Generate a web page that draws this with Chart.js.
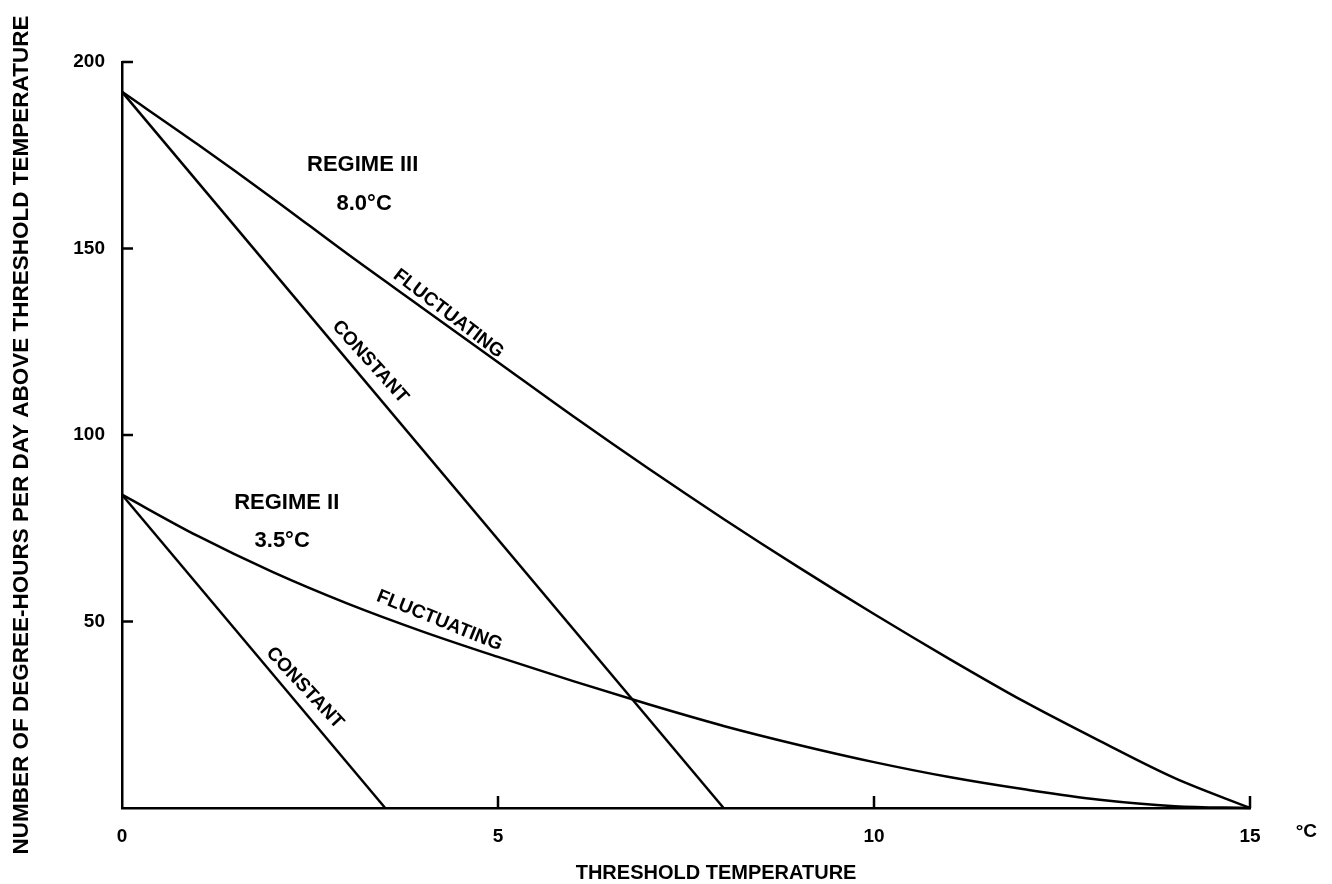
<!DOCTYPE html>
<html>
<head>
<meta charset="utf-8">
<title>Degree-hours above threshold temperature</title>
<script src="https://cdn.jsdelivr.net/npm/chart.js@4/dist/chart.umd.min.js"></script>
<style>
  html, body { margin: 0; padding: 0; background: #fff; }
  #wrap { width: 1332px; height: 884px; }
</style>
</head>
<body>
<div id="wrap"><canvas id="c" width="1332" height="884"></canvas></div>
<script>
// Threshold temperatures (°C) at which the curves are sampled
const thresholds = [0, 1, 2, 3, 4, 5, 6, 7, 8, 9, 10, 11, 12, 13, 14, 15];

// Regime III (mean 8.0 °C), degree-hours per day above threshold
const regime3Fluctuating = [192, 178, 163.5, 148.5, 134, 119.5, 105, 91, 77.5, 64.5, 52, 40, 28.5, 18, 8, 0];
const regime3ConstantX = [0, 8.0];
const regime3Constant = [192, 0];

// Regime II (mean 3.5 °C)
const regime2Fluctuating = [84, 73, 63.3, 54.8, 47.3, 40.5, 34, 27.8, 22, 16.9, 12.3, 8.3, 5, 2.2, 0.5, 0];
const regime2ConstantX = [0, 3.5];
const regime2Constant = [84, 0];

// Axis ticks
const xTicks = [0, 5, 10, 15];
const yTicks = [50, 100, 150, 200];

// Text placed on the plot, in data coordinates
const regimeLabels = [
  { text: 'REGIME III', x: 3.2, y: 172.5 },
  { text: '8.0°C', x: 3.22, y: 162 },
  { text: 'REGIME II', x: 2.19, y: 81.8 },
  { text: '3.5°C', x: 2.13, y: 71.6 }
];
const curveLabels = [
  { text: 'FLUCTUATING', x: 4.34, y: 132.5, angle: 37.5 },
  { text: 'CONSTANT', x: 3.3, y: 119.6, angle: 48 },
  { text: 'FLUCTUATING', x: 4.22, y: 50.2, angle: 22 },
  { text: 'CONSTANT', x: 2.43, y: 32.2, angle: 47 }
];
const unitLabel = { text: '°C', x: 15.75 };
const xTitle = { text: 'THRESHOLD TEMPERATURE', x: 7.9 };

const FONT = '"Liberation Sans", Arial, Helvetica, sans-serif';
const INK = '#000';

function pts(xs, ys) { return xs.map((x, i) => ({ x: x, y: ys[i] })); }

const lineStyle = {
  borderColor: INK,
  borderWidth: 2.5,
  pointRadius: 0,
  fill: false,
  clip: false
};

// Inward tick marks, free text and white background
const decorPlugin = {
  id: 'decor',
  beforeDraw(chart) {
    const ctx = chart.ctx;
    ctx.save();
    ctx.fillStyle = '#fff';
    ctx.fillRect(0, 0, chart.width, chart.height);
    ctx.restore();
  },
  afterDraw(chart) {
    const ctx = chart.ctx;
    const xs = chart.scales.x, ys = chart.scales.y;
    const area = chart.chartArea;
    ctx.save();
    ctx.strokeStyle = INK;
    ctx.lineWidth = 2.5;
    ctx.beginPath();
    yTicks.forEach(v => {
      const py = ys.getPixelForValue(v);
      ctx.moveTo(area.left, py);
      ctx.lineTo(area.left + 11, py);
    });
    xTicks.filter(v => v > 0).forEach(v => {
      const px = xs.getPixelForValue(v);
      ctx.moveTo(px, area.bottom);
      ctx.lineTo(px, area.bottom - 12);
    });
    ctx.stroke();

    ctx.fillStyle = INK;
    ctx.textAlign = 'center';
    ctx.textBaseline = 'middle';
    ctx.font = 'bold 22px ' + FONT;
    regimeLabels.forEach(l => {
      ctx.fillText(l.text, xs.getPixelForValue(l.x), ys.getPixelForValue(l.y));
    });
    ctx.font = 'bold 19px ' + FONT;
    curveLabels.forEach(l => {
      ctx.save();
      ctx.translate(xs.getPixelForValue(l.x), ys.getPixelForValue(l.y));
      ctx.rotate(l.angle * Math.PI / 180);
      ctx.fillText(l.text, 0, 0);
      ctx.restore();
    });
    ctx.font = 'bold 19px ' + FONT;
    ctx.fillText(unitLabel.text, xs.getPixelForValue(unitLabel.x), area.bottom + 24);
    ctx.font = 'bold 20px ' + FONT;
    ctx.fillText(xTitle.text, xs.getPixelForValue(xTitle.x), area.bottom + 65);
    ctx.restore();
  }
};

new Chart(document.getElementById('c'), {
  type: 'line',
  data: {
    datasets: [
      Object.assign({ label: 'Regime III fluctuating', data: pts(thresholds, regime3Fluctuating), cubicInterpolationMode: 'monotone' }, lineStyle),
      Object.assign({ label: 'Regime III constant', data: pts(regime3ConstantX, regime3Constant) }, lineStyle),
      Object.assign({ label: 'Regime II fluctuating', data: pts(thresholds, regime2Fluctuating), cubicInterpolationMode: 'monotone' }, lineStyle),
      Object.assign({ label: 'Regime II constant', data: pts(regime2ConstantX, regime2Constant) }, lineStyle)
    ]
  },
  options: {
    responsive: false,
    animation: false,
    layout: { padding: { left: 0, right: 82, top: 62, bottom: 0 } },
    plugins: { legend: { display: false }, tooltip: { enabled: false } },
    scales: {
      x: {
        type: 'linear',
        min: 0, max: 15,
        afterFit(scale) { scale.height = 76; },
        afterBuildTicks(scale) { scale.ticks = xTicks.map(v => ({ value: v })); },
        grid: { display: false, drawTicks: false },
        border: { display: true, color: INK, width: 2.5 },
        ticks: { color: INK, padding: 17, font: { family: FONT, size: 19, weight: 'bold' }, maxRotation: 0 },
        title: { display: false }
      },
      y: {
        type: 'linear',
        min: 0, max: 200,
        afterFit(scale) { scale.width = 122; },
        afterBuildTicks(scale) { scale.ticks = yTicks.map(v => ({ value: v })); },
        grid: { display: false, drawTicks: false },
        border: { display: true, color: INK, width: 2.5 },
        ticks: { color: INK, padding: 17, font: { family: FONT, size: 19, weight: 'bold' } },
        title: { display: true, text: 'NUMBER OF DEGREE-HOURS PER DAY ABOVE THRESHOLD TEMPERATURE', color: INK, padding: { top: 8, bottom: 0 }, font: { family: FONT, size: 22.5, weight: 'bold' } }
      }
    }
  },
  plugins: [decorPlugin]
});
</script>
</body>
</html>
